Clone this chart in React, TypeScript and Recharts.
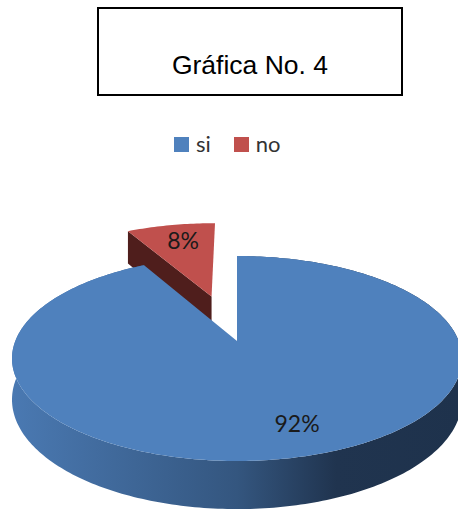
import React from "react";
import { PieChart, Pie, Cell, Legend } from "recharts";

const categories = ["no", "si"];
const values = [8, 92];
const legendOrder = ["si", "no"];
const chartTitle = "Gráfica No. 4";

const colors: Record<string, string> = { si: "#4f81bd", no: "#c0504d" };
const explode: Record<string, number> = { si: 0, no: 0.5 };
const labelRadius: Record<string, number> = { si: 0.76, no: 0.76 };
const labelTurn: Record<string, number> = { si: 3.8, no: -1.5 };

const LABEL_FONT = "Lato, 'Open Sans', sans-serif";
const PERSPECTIVE = 0.1707;
const FLATTEN = 0.4488;
const DEPTH = 0.18;

const data = categories.map((name, i) => ({ name, value: values[i] }));

type Pt = { x: number; y: number; d: number };

function project(cx: number, cy: number, R: number, u: number, v: number): Pt {
  const w = 1 + PERSPECTIVE * v;
  return {
    x: cx + (R * u) / w,
    y: cy - (FLATTEN * R * v) / w,
    d: (DEPTH * R) / w,
  };
}

function pathOf(points: { x: number; y: number }[]) {
  return (
    points.map((p, i) => `${i ? "L" : "M"}${p.x.toFixed(2)} ${p.y.toFixed(2)}`).join(" ") + " Z"
  );
}

function Slice3D(props: any) {
  const { cx, cy, outerRadius: R, startAngle, endAngle, name } = props;
  const rad = Math.PI / 180;
  const mid = ((startAngle + endAngle) / 2) * rad;
  const e = explode[name] ?? 0;
  const ou = e * Math.cos(mid);
  const ov = e * Math.sin(mid);
  const steps = Math.max(8, Math.round(Math.abs(endAngle - startAngle)));
  const arc: Pt[] = [];
  for (let i = 0; i <= steps; i++) {
    const a = (startAngle + ((endAngle - startAngle) * i) / steps) * rad;
    arc.push(project(cx, cy, R, ou + Math.cos(a), ov + Math.sin(a)));
  }
  const apex = project(cx, cy, R, ou, ov);
  const top = pathOf([apex, ...arc]);
  const down = (p: Pt) => ({ x: p.x, y: p.y + p.d });

  if (name === "no") {
    const left = arc[arc.length - 1];
    return (
      <g>
        <path d={pathOf([apex, left, down(left), down(apex)])} fill="#4f1e1c" />
        <path d={top} fill={colors.no} />
      </g>
    );
  }
  const band = pathOf([...arc, ...arc.slice().reverse().map(down)]);
  return (
    <g>
      <defs>
        <linearGradient id="blueSide" x1="0" y1="0" x2="1" y2="0">
          <stop offset="0" stopColor="#4a79b2" />
          <stop offset="0.5" stopColor="#34567f" />
          <stop offset="0.72" stopColor="#20344f" />
          <stop offset="1" stopColor="#1e324c" />
        </linearGradient>
      </defs>
      <path d={band} fill="url(#blueSide)" />
      <path d={top} fill={colors.si} />
    </g>
  );
}

function sliceLabel(props: any) {
  const { cx, cy, outerRadius: R, midAngle, name, percent } = props;
  const rad = Math.PI / 180;
  const a = midAngle * rad;
  const b = (midAngle + (labelTurn[name] ?? 0)) * rad;
  const e = explode[name] ?? 0;
  const t = labelRadius[name] ?? 0.7;
  const p = project(
    cx,
    cy,
    R,
    e * Math.cos(a) + t * Math.cos(b),
    e * Math.sin(a) + t * Math.sin(b)
  );
  return (
    <text
      x={p.x}
      y={p.y}
      textAnchor="middle"
      dominantBaseline="central"
      fontFamily={LABEL_FONT}
      fontSize={23}
      fill="#1a1a1a"
    >
      {`${Math.round(percent * 100)}%`}
    </text>
  );
}

function LegendRow() {
  return (
    <div
      style={{
        display: "flex",
        alignItems: "center",
        fontFamily: LABEL_FONT,
        fontSize: 22,
        lineHeight: "24px",
        color: "#333",
      }}
    >
      {legendOrder.map((name, i) => (
        <span
          key={name}
          style={{ display: "flex", alignItems: "center", marginLeft: i ? 23 : 0 }}
        >
          <span
            style={{ width: 15, height: 15, background: colors[name], marginRight: 7, display: "block" }}
          />
          {name}
        </span>
      ))}
    </div>
  );
}

export default function App() {
  return (
    <div style={{ position: "absolute", left: 0, top: 0, width: 458, height: 510, background: "#fff" }}>
      <div
        style={{
          position: "absolute",
          left: 97,
          top: 7,
          width: 302,
          height: 85,
          border: "2px solid #000",
          fontFamily: "'Liberation Sans', Arial, sans-serif",
          fontSize: 26.5,
          color: "#000",
          textAlign: "center",
          lineHeight: "30px",
        }}
      >
        <div style={{ position: "absolute", left: 0, right: 0, top: 41 }}>{chartTitle}</div>
      </div>
      <PieChart width={458} height={510} margin={{ top: 0, right: 0, bottom: 0, left: 0 }}>
        <Legend
          content={<LegendRow />}
          wrapperStyle={{ position: "absolute", left: 174, top: 132, width: 130, bottom: "auto" }}
        />
        <Pie
          data={data}
          dataKey="value"
          nameKey="name"
          cx={237}
          cy={341}
          outerRadius={221.7}
          startAngle={90}
          endAngle={450}
          stroke="none"
          labelLine={false}
          label={sliceLabel}
          shape={Slice3D}
          isAnimationActive={false}
        >
          {data.map((d) => (
            <Cell key={d.name} fill={colors[d.name]} />
          ))}
        </Pie>
      </PieChart>
    </div>
  );
}
